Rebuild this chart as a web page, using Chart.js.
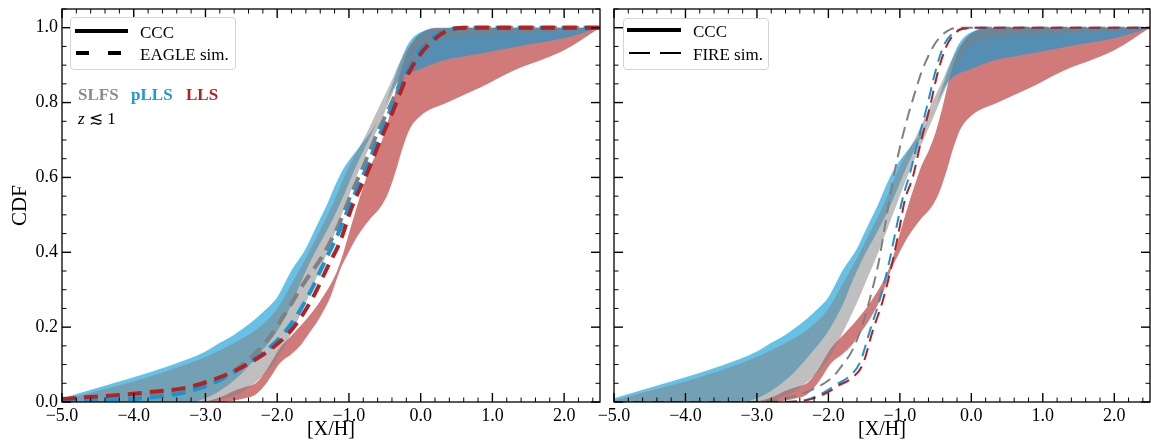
<!DOCTYPE html>
<html>
<head>
<meta charset="utf-8">
<script src="https://cdn.jsdelivr.net/npm/chart.js@4.4.1/dist/chart.umd.min.js"></script>
<style>
  html, body { margin: 0; padding: 0; background: #fff; }
  #wrap { position: relative; width: 1151px; height: 445px; overflow: hidden; font-family: 'Liberation Serif', serif; }
  canvas { position: absolute; top: 0; }
  .txt { position: absolute; line-height: 1; transform: translateY(-50%); white-space: nowrap; color: #000; }
  .legend { position: absolute; border: 1px solid #d4d4d4; border-radius: 4px; background: rgba(255,255,255,0.85); }
  svg { position: absolute; left: 0; top: 0; }
</style>
</head>
<body>
<div id="wrap">
  <canvas id="left" width="606" height="445" style="left:0"></canvas>
  <canvas id="right" width="561" height="445" style="left:590px"></canvas>

  <div class="legend" style="left:70px;top:17px;width:164px;height:51px"></div>
  <div class="legend" style="left:623px;top:18px;width:144px;height:50px"></div>
  <svg width="1151" height="445">
    <line x1="75" y1="31" x2="128" y2="31" stroke="#000" stroke-width="4"/>
    <line x1="76" y1="53" x2="128" y2="53" stroke="#000" stroke-width="4" stroke-dasharray="13 19"/>
    <line x1="627" y1="30" x2="681" y2="30" stroke="#000" stroke-width="4"/>
    <line x1="629" y1="53" x2="681" y2="53" stroke="#000" stroke-width="2" stroke-dasharray="21 10"/>
  </svg>
  <div class="txt" style="left:140px;top:32px;font-size:17px">CCC</div>
  <div class="txt" style="left:140px;top:54px;font-size:17px">EAGLE sim.</div>
  <div class="txt" style="left:693px;top:31px;font-size:17px">CCC</div>
  <div class="txt" style="left:693px;top:54px;font-size:17px">FIRE sim.</div>

  <div class="txt" style="left:78px;top:94px;font-size:17px;font-weight:bold;color:#8c8c8c">SLFS</div>
  <div class="txt" style="left:131px;top:94px;font-size:17px;font-weight:bold;color:#1b9ad6">pLLS</div>
  <div class="txt" style="left:186px;top:94px;font-size:17px;font-weight:bold;color:#b22222">LLS</div>
  <div class="txt" style="left:78px;top:118px;font-size:17px"><i>z</i> ≲ 1</div>
</div>

<script>
// axis ticks
const xhTicks = [-5, -4, -3, -2, -1, 0, 1, 2];
const cdfTicks = [0, 0.2, 0.4, 0.6, 0.8, 1.0];

// CCC observed bands, [X/H] vs CDF (upper and lower edges)
const slfsUpper = [[-5,0.005],[-4.5,0.03],[-4,0.055],[-3.5,0.085],[-3,0.12],[-2.8,0.138],[-2.5,0.168],[-2.2,0.208],[-2,0.25],[-1.8,0.315],[-1.6,0.385],[-1.4,0.46],[-1.2,0.54],[-1,0.63],[-0.8,0.7],[-0.6,0.78],[-0.4,0.86],[-0.3,0.905],[-0.2,0.94],[-0.1,0.965],[0,0.98],[0.3,0.995],[0.6,1.0],[2.5,1.0]];
const slfsLower = [[-5,0],[-3,0],[-2.8,0.006],[-2.5,0.025],[-2.2,0.07],[-2,0.115],[-1.8,0.185],[-1.6,0.265],[-1.5,0.31],[-1.3,0.4],[-1.1,0.5],[-0.9,0.6],[-0.8,0.645],[-0.6,0.73],[-0.4,0.82],[-0.3,0.865],[-0.2,0.905],[-0.1,0.935],[0,0.955],[0.3,0.972],[1,0.982],[2,0.992],[2.5,1.0]];

const pllsUpper = [[-5,0.01],[-4.5,0.038],[-4,0.066],[-3.5,0.097],[-3,0.135],[-2.8,0.158],[-2.6,0.18],[-2.4,0.207],[-2.2,0.24],[-2,0.28],[-1.9,0.315],[-1.8,0.352],[-1.7,0.38],[-1.6,0.41],[-1.5,0.45],[-1.4,0.49],[-1.3,0.53],[-1.2,0.575],[-1.1,0.615],[-1,0.645],[-0.9,0.67],[-0.8,0.695],[-0.7,0.72],[-0.6,0.75],[-0.5,0.79],[-0.4,0.845],[-0.3,0.9],[-0.2,0.948],[-0.1,0.975],[0,0.988],[0.2,0.997],[0.5,1.0],[2.5,1.0]];
const pllsLower = [[-5,0],[-3.2,0],[-3,0.01],[-2.8,0.03],[-2.5,0.075],[-2.2,0.14],[-2,0.19],[-1.8,0.26],[-1.67,0.32],[-1.5,0.39],[-1.3,0.46],[-1.1,0.54],[-0.9,0.63],[-0.7,0.71],[-0.5,0.79],[-0.4,0.83],[-0.3,0.86],[-0.2,0.875],[0,0.89],[0.3,0.912],[0.8,0.93],[1.5,0.955],[2,0.972],[2.5,1.0]];

const llsUpper = [[-5,0],[-3.1,0],[-2.8,0.012],[-2.6,0.03],[-2.45,0.04],[-2.3,0.05],[-2.15,0.085],[-1.96,0.145],[-1.8,0.178],[-1.6,0.22],[-1.4,0.27],[-1.2,0.335],[-1.1,0.385],[-1,0.45],[-0.9,0.515],[-0.8,0.575],[-0.7,0.63],[-0.6,0.67],[-0.5,0.72],[-0.4,0.79],[-0.3,0.87],[-0.2,0.93],[-0.1,0.965],[0,0.985],[0.2,1.0],[2.5,1.0]];
const llsLower = [[-5,0],[-2.75,0],[-2.6,0.004],[-2.45,0.01],[-2.3,0.02],[-2.15,0.05],[-1.96,0.104],[-1.8,0.128],[-1.68,0.15],[-1.55,0.185],[-1.4,0.228],[-1.26,0.28],[-1.12,0.355],[-1.03,0.39],[-0.89,0.44],[-0.7,0.49],[-0.56,0.52],[-0.45,0.56],[-0.35,0.615],[-0.25,0.68],[-0.15,0.73],[0,0.765],[0.37,0.8],[0.83,0.84],[1.29,0.885],[2,0.94],[2.5,1.0]];

// EAGLE simulation CDFs (left panel)
const eagleSlfs = [[-5,0],[-4.5,0.004],[-4,0.01],[-3.4,0.027],[-2.9,0.05],[-2.42,0.11],[-2.14,0.165],[-1.86,0.245],[-1.63,0.317],[-1.37,0.39],[-1.15,0.47],[-0.98,0.55],[-0.8,0.63],[-0.6,0.72],[-0.38,0.81],[-0.2,0.89],[0,0.945],[0.2,0.98],[0.45,0.997],[0.7,1.0],[2.5,1.0]];
const eaglePlls = [[-5,0],[-4.8,0.002],[-4.2,0.006],[-3.8,0.011],[-3.3,0.025],[-2.9,0.05],[-2.5,0.092],[-2.05,0.155],[-1.8,0.21],[-1.55,0.29],[-1.35,0.37],[-1.15,0.45],[-0.98,0.53],[-0.77,0.62],[-0.58,0.71],[-0.4,0.79],[-0.2,0.88],[0,0.94],[0.2,0.978],[0.45,0.997],[0.7,1.0],[2.5,1.0]];
const eagleLls = [[-5,0.008],[-4.8,0.011],[-4.2,0.019],[-3.8,0.026],[-3.3,0.037],[-2.9,0.059],[-2.5,0.092],[-2.05,0.147],[-1.77,0.2],[-1.5,0.28],[-1.3,0.36],[-1.12,0.43],[-0.96,0.52],[-0.75,0.61],[-0.56,0.7],[-0.38,0.78],[-0.19,0.87],[0,0.93],[0.23,0.975],[0.45,0.997],[0.7,1.0],[2.5,1.0]];

// FIRE simulation CDFs (right panel)
const fireSlfs = [[-5,0],[-3,0],[-2.6,0.01],[-2.3,0.027],[-1.94,0.067],[-1.8,0.1],[-1.66,0.14],[-1.5,0.22],[-1.4,0.29],[-1.3,0.37],[-1.2,0.48],[-1.1,0.59],[-1.0,0.68],[-0.9,0.755],[-0.8,0.82],[-0.7,0.88],[-0.6,0.925],[-0.5,0.96],[-0.4,0.982],[-0.3,0.995],[-0.15,1.0],[2.5,1.0]];
const firePlls = [[-5,0],[-2.6,0],[-2.3,0.006],[-2.05,0.027],[-1.88,0.048],[-1.73,0.065],[-1.56,0.105],[-1.42,0.19],[-1.28,0.275],[-1.16,0.365],[-1.05,0.465],[-0.96,0.545],[-0.86,0.61],[-0.73,0.71],[-0.62,0.79],[-0.5,0.885],[-0.38,0.955],[-0.22,0.99],[-0.1,0.998],[0.2,1.0],[2.5,1.0]];
const fireLls = [[-5,0],[-2.6,0],[-2.3,0.005],[-2.03,0.024],[-1.85,0.045],[-1.7,0.06],[-1.52,0.1],[-1.38,0.19],[-1.24,0.27],[-1.12,0.36],[-1.01,0.46],[-0.93,0.54],[-0.82,0.6],[-0.7,0.7],[-0.59,0.78],[-0.47,0.88],[-0.35,0.95],[-0.2,0.99],[-0.1,0.998],[0.2,1.0],[2.5,1.0]];

const colGray = '#808080', colBlue = '#1496d4', colRed = '#b22222';

Chart.defaults.font.family = "'Liberation Serif', serif";
Chart.defaults.color = '#000';

function xy(pts) {
  return pts.map(p => ({ x: p[0], y: p[1] }));
}

function fmt(v) {
  return (v < 0 ? '\u2212' : '') + Math.abs(v).toFixed(1);
}

function band(upper, lower, fillColor, order) {
  return [
    { data: xy(upper), backgroundColor: fillColor, borderWidth: 0, fill: '+1', order: order },
    { data: xy(lower), borderWidth: 0, fill: false, order: order },
  ];
}

function simLine(pts, color, width, dash, order) {
  return { data: xy(pts), borderColor: color, borderWidth: width, borderDash: dash, fill: false, order: order };
}

// spines and inward ticks on all four sides
const frameTicks = {
  id: 'frameTicks',
  afterDatasetsDraw(chart) {
    const ctx = chart.ctx, a = chart.chartArea, x = chart.scales.x, y = chart.scales.y;
    ctx.save();
    ctx.strokeStyle = '#000';
    function mark(px, py, dx, dy) {
      ctx.beginPath();
      ctx.moveTo(px, py);
      ctx.lineTo(px + dx, py + dy);
      ctx.stroke();
    }
    for (let i = 0; i <= 37; i++) {
      const v = -5 + i * 0.2;
      const major = Math.abs(v - Math.round(v)) < 1e-6;
      const len = major ? 9 : 4.5;
      ctx.lineWidth = major ? 1.4 : 1;
      const px = x.getPixelForValue(v);
      mark(px, a.bottom, 0, -len);
      mark(px, a.top, 0, len);
    }
    for (let i = 0; i <= 21; i++) {
      const v = i * 0.05;
      const major = i % 4 === 0;
      const len = major ? 9 : 4.5;
      ctx.lineWidth = major ? 1.4 : 1;
      const py = y.getPixelForValue(v);
      mark(a.left, py, len, 0);
      mark(a.right, py, -len, 0);
    }
    ctx.lineWidth = 1.3;
    ctx.strokeRect(a.left, a.top, a.right - a.left, a.bottom - a.top);
    ctx.restore();
  }
};

function drawPanel(canvasId, sims, isLeft) {
  const datasets = [].concat(
    band(llsUpper, llsLower, 'rgba(178,34,34,0.6)', 10),
    band(pllsUpper, pllsLower, 'rgba(10,155,215,0.62)', 9),
    band(slfsUpper, slfsLower, 'rgba(128,128,128,0.5)', 8),
    sims
  );
  new Chart(document.getElementById(canvasId), {
    type: 'line',
    data: { datasets: datasets },
    options: {
      responsive: false,
      animation: false,
      events: [],
      layout: { padding: { top: 9, right: isLeft ? 6 : 1, left: 0, bottom: 0 } },
      elements: { point: { radius: 0 }, line: { cubicInterpolationMode: 'monotone' } },
      plugins: { legend: { display: false }, tooltip: { enabled: false } },
      scales: {
        x: {
          type: 'linear', min: -5, max: 2.5,
          grid: { display: false, drawTicks: false },
          border: { display: false },
          afterBuildTicks: s => { s.ticks = xhTicks.map(v => ({ value: v })); },
          afterFit: s => { s.height = 43; },
          ticks: { callback: fmt, padding: 3, maxRotation: 0, autoSkip: false, font: { size: 18 } },
          title: { display: true, text: '[X/H]', font: { size: 20 }, padding: { top: 0, bottom: 3 } }
        },
        y: {
          type: 'linear', min: 0, max: 1.05,
          grid: { display: false, drawTicks: false },
          border: { display: false },
          afterBuildTicks: s => { s.ticks = cdfTicks.map(v => ({ value: v })); },
          afterFit: s => { s.width = isLeft ? 62 : 24; },
          ticks: { display: isLeft, callback: v => v.toFixed(1), padding: 4, autoSkip: false, font: { size: 18, lineHeight: 0.5 } },
          title: { display: isLeft, text: 'CDF', font: { size: 21 }, padding: { top: 8, bottom: 0 } }
        }
      }
    },
    plugins: [frameTicks]
  });
}

drawPanel('left', [
  simLine(eagleSlfs, colGray, 4, [14, 8], 3),
  simLine(eaglePlls, colBlue, 4, [14, 8], 2),
  simLine(eagleLls, colRed, 4, [14, 8], 1)
], true);

drawPanel('right', [
  simLine(fireSlfs, colGray, 2, [12, 7], 3),
  simLine(firePlls, colBlue, 2, [12, 7], 2),
  simLine(fireLls, colRed, 2, [12, 7], 1)
], false);
</script>
</body>
</html>
